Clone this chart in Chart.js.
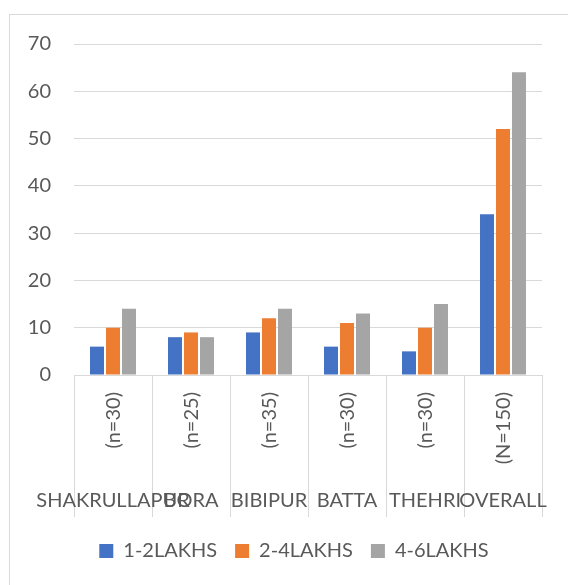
<!DOCTYPE html>
<html lang="en">
<head>
    <meta charset="UTF-8">
    <title>Income groups by village</title>
    <script src="https://cdn.jsdelivr.net/npm/chart.js"></script>
    <style>
        body { margin: 0; overflow: hidden; background: #fff; }
        .frame {
            position: absolute; left: 9px; top: 14px;
            width: 620px; height: 620px;
            border: 1px solid #d9d9d9;
        }
        .chart-box {
            position: absolute; left: 10px; top: 15px;
            width: 568px; height: 570px;
        }
    </style>
</head>
<body>
    <div class="frame"></div>
    <div class="chart-box"><canvas id="incomeChart"></canvas></div>

    <script>
        // data
        const villages = ['SHAKRULLAPUR', 'BORA', 'BIBIPUR', 'BATTA', 'THEHRI', 'OVERALL'];
        const sampleSizes = ['(n=30)', '(n=25)', '(n=35)', '(n=30)', '(n=30)', '(N=150)'];
        const lakhs1to2 = [6, 8, 9, 6, 5, 34];
        const lakhs2to4 = [10, 9, 12, 11, 10, 52];
        const lakhs4to6 = [14, 8, 14, 13, 15, 64];
        const yTicks = [0, 10, 20, 30, 40, 50, 60, 70];

        const textColor = '#595959';
        const gridColor = '#d9d9d9';
        const fontFamily = 'Lato, "Open Sans", sans-serif';

        // two-part category labels: rotated sample size + village name underneath
        const categoryLabels = {
            id: 'categoryLabels',
            afterLayout(chart) {
                // legend is centred on the whole frame in the original, not on the plot
                chart.legend.left += 18;
                chart.legend.right += 18;
            },
            afterDraw(chart) {
                const ctx = chart.ctx;
                const xScale = chart.scales.x;
                ctx.save();
                ctx.fillStyle = textColor;
                ctx.font = '20px ' + fontFamily;
                villages.forEach((name, i) => {
                    const x = xScale.getPixelForValue(i);
                    ctx.save();
                    ctx.translate(x + 1, xScale.top + 17);
                    ctx.rotate(-Math.PI / 2);
                    ctx.textAlign = 'right';
                    ctx.textBaseline = 'middle';
                    ctx.fillText(sampleSizes[i], 0, 0);
                    ctx.restore();

                    ctx.textAlign = 'center';
                    ctx.textBaseline = 'middle';
                    ctx.fillText(name, x, xScale.top + 126);
                });
                ctx.restore();
            }
        };

        const ctxIncome = document.getElementById('incomeChart').getContext('2d');
        const incomeChart = new Chart(ctxIncome, {
            type: 'bar',
            data: {
                labels: villages,
                datasets: [{
                    label: '1-2LAKHS',
                    data: lakhs1to2,
                    backgroundColor: '#4472c4'
                }, {
                    label: '2-4LAKHS',
                    data: lakhs2to4,
                    backgroundColor: '#ed7d31'
                }, {
                    label: '4-6LAKHS',
                    data: lakhs4to6,
                    backgroundColor: '#a5a5a5'
                }]
            },
            options: {
                responsive: true,
                maintainAspectRatio: false,
                animation: false,
                datasets: {
                    bar: {
                        categoryPercentage: 0.615,
                        barPercentage: 0.875
                    }
                },
                layout: {
                    padding: { top: 29, right: 36, bottom: 14, left: 0 }
                },
                scales: {
                    x: {
                        grid: {
                            display: true,
                            drawOnChartArea: false,
                            drawTicks: true,
                            tickLength: 142,
                            color: gridColor,
                            offset: true
                        },
                        border: { display: true, color: gridColor },
                        ticks: { display: false },
                        afterFit(scale) { scale.height = 148; }
                    },
                    y: {
                        min: 0,
                        max: 70,
                        afterBuildTicks(scale) {
                            scale.ticks = yTicks.map(v => ({ value: v }));
                        },
                        grid: {
                            color: gridColor,
                            drawTicks: true,
                            tickLength: 10,
                            tickColor: 'rgba(0,0,0,0)'
                        },
                        border: { display: false },
                        ticks: {
                            color: textColor,
                            padding: 13,
                            font: { family: fontFamily, size: 20 }
                        },
                        afterFit(scale) { scale.width = 64; }
                    }
                },
                plugins: {
                    legend: {
                        position: 'bottom',
                        labels: {
                            color: textColor,
                            boxWidth: 14,
                            boxHeight: 14,
                            padding: 18,
                            font: { family: fontFamily, size: 20 }
                        }
                    },
                    tooltip: { enabled: false }
                }
            },
            plugins: [categoryLabels]
        });
    </script>
</body>
</html>
